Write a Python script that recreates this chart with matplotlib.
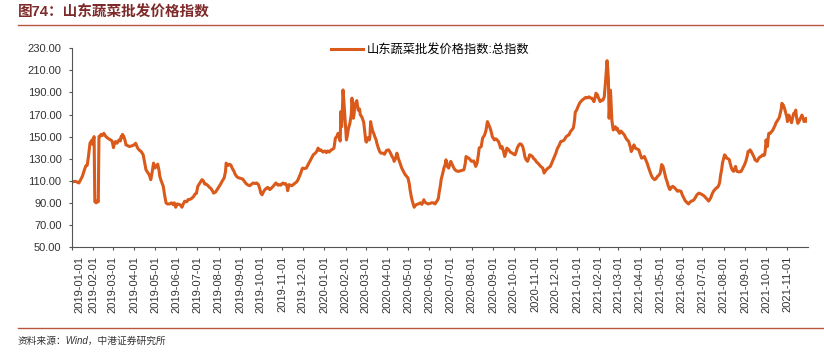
import pandas as pd
import matplotlib
matplotlib.use("Agg")
import matplotlib.pyplot as plt
import matplotlib.dates as mdates
import matplotlib.transforms as mtransforms
from matplotlib.lines import Line2D

plt.rcParams['font.family'] = ['Liberation Sans', 'Noto Sans CJK SC', 'DejaVu Sans']

# days since 2019-01-01 and index value
days = [0, 5, 10, 15, 18, 20, 22, 24, 26, 28, 29, 30, 31, 32, 33, 35, 37, 38, 39, 40,
        42, 44, 46, 47, 49, 51, 53, 56, 58, 60, 61, 63, 65, 68, 70, 71, 72, 73, 74, 75,
        77, 78, 80, 83, 86, 88, 90, 92, 95, 97, 100, 103, 105, 107, 109, 112, 114, 116, 118, 120,
        122, 124, 126, 127, 129, 132, 134, 136, 138, 141, 144, 146, 148, 150, 152, 155, 157, 159, 161, 163,
        166, 168, 170, 173, 176, 178, 180, 182, 185,
        188, 190, 192, 194, 196, 199, 201, 203, 205, 208, 210, 213, 215, 217, 220, 222, 223, 225, 226, 228,
        230, 232, 234, 236, 238, 240, 242, 245, 247, 250, 252, 255, 257, 260, 262, 265, 267, 269, 270, 272,
        273, 275, 277, 279, 281, 283, 285, 286, 288, 291, 293, 295, 298, 300, 302, 305, 307, 309, 311, 312,
        314, 316, 318, 320, 322, 325, 327, 329, 331, 333, 334, 336, 339, 341, 344, 346, 349, 352, 354, 356,
        358, 360, 363, 366,
        368, 370, 372, 375, 377, 379, 381, 383, 385, 386, 388, 389, 390, 391, 392, 393, 394, 395, 396, 397,
        398, 400, 402, 404, 405, 406, 407, 408, 409, 410, 412, 413, 414, 416, 417, 419, 420, 422, 423, 424,
        425, 426, 428, 430, 431, 432, 433, 435, 437, 438, 440, 441, 443, 445, 447, 450, 452, 455, 458, 460,
        463, 465, 466, 468, 470, 471, 472, 474, 477, 479, 482, 484, 486, 488, 489, 491, 493, 495, 497, 499,
        501, 504, 506, 508, 509, 510, 512, 515, 518, 520, 523, 525, 528, 530, 531, 533, 534, 536, 537, 538,
        540, 541, 542, 543, 545, 547,
        548, 550, 552, 554, 556, 559, 562, 564, 567, 569, 570, 572, 574, 576, 578, 581, 583, 584, 586, 588,
        589, 592, 594, 597, 599, 601, 603, 605, 607, 608, 610, 611, 613, 615, 617, 619, 620, 622, 624, 626,
        628, 629, 632, 634, 637, 639, 641, 643, 644, 646, 648, 650, 652, 654, 655, 657, 659, 661, 662, 664,
        666, 668, 670, 672, 674, 676, 678, 681, 683, 685, 687, 690, 692, 694, 696, 698, 700, 702, 705, 707,
        710, 712, 715, 717, 719, 721, 723, 725, 726, 727, 728,
        730, 733, 735, 738, 740, 743, 745, 748, 750, 752, 754, 755, 757, 758, 760, 761, 763, 764, 766, 768,
        770, 772, 774, 775, 776, 777, 778, 779, 780, 781, 782, 783, 785, 786, 788, 789, 791, 792, 794, 795,
        797, 799, 801, 803, 805, 806, 808, 809, 811, 813, 815, 817, 820, 822, 824, 826, 828, 830, 832, 834,
        836, 838, 840, 843, 845, 847, 849, 851, 852, 853, 855, 857, 859, 861, 862, 864, 865, 867, 869, 871,
        872, 874, 876, 878, 881, 883, 885, 887, 890, 892, 893, 895, 896, 898, 900, 902, 904, 907,
        910, 912, 914, 917, 919, 921, 924, 926, 928, 930, 932, 934, 936, 937, 938, 940, 941, 943, 944, 946,
        947, 949, 951, 952, 954, 955, 957, 958, 960, 961, 962, 965, 968, 970, 973, 975, 977, 978, 980, 981,
        983, 985, 987, 988, 990, 991, 993, 995, 997, 999, 1001, 1002, 1003, 1004, 1005, 1006, 1007, 1008, 1010, 1012,
        1014, 1015, 1017, 1018, 1020, 1021, 1023, 1024, 1026, 1027, 1028, 1029, 1031, 1032, 1034, 1035, 1036, 1037, 1039, 1041,
        1042, 1044, 1046, 1047, 1048, 1050, 1052, 1053, 1055, 1056, 1058, 1059, 1061, 1062, 1063]

index_vals = [109, 109.5, 108, 114, 120, 123.5, 124, 133, 144, 146, 147, 143, 148, 150, 91, 90, 92, 91, 150, 150,
              152, 151, 153, 152, 150, 149, 148, 147, 146, 140, 143, 145.5, 144, 147, 146, 150, 149, 152, 151, 150,
              146, 142.5, 142, 141, 141.5, 142, 142.5, 144, 139.6, 138, 136.5, 133.5, 127, 120, 118, 115, 111, 118, 126, 121.5,
              123, 125, 119, 114, 110, 105, 97, 90, 89, 89, 90, 88.5, 90, 86, 89, 88.5, 88, 86, 89, 91.5,
              91, 93, 93, 94, 95.8, 98, 98.6, 105, 108,
              111, 110, 107, 107, 106, 104, 103, 101, 98.8, 100, 102, 105, 107, 109.4, 112.4, 118, 126, 124, 124, 125,
              124, 121, 119, 116, 114, 113, 112.5, 112, 111.5, 109, 107.3, 106, 105.5, 107, 108, 107.5, 108, 107, 106, 102,
              99, 97.3, 100, 102, 103, 104, 103, 102, 103, 105, 106.5, 108, 106, 106.5, 106, 108, 107, 107.5, 105, 101,
              106.5, 106, 105.5, 106.5, 107.5, 109, 111, 114, 117, 121, 121.5, 121, 121.5, 124, 127.5, 130, 133.5, 135, 136.6, 139.6,
              137.5, 138, 136, 137,
              135.5, 137, 136, 138, 138.5, 139.6, 148.6, 150, 153, 150, 146, 172.7, 159, 170, 192.3, 184.8, 175, 165, 155, 147,
              150, 157.5, 162, 170, 184.8, 178, 166.6, 170, 177, 180, 182.6, 178, 174, 175, 170, 168, 166.6, 163, 157.5, 152,
              146, 145, 149, 147, 150, 163.6, 160, 155, 152, 150, 147, 144, 140, 136.5, 135, 135, 134, 137.5, 138, 136,
              132, 130, 127.6, 130, 135, 133, 130.5, 127, 121.5, 119, 115.5, 114, 112.6, 107, 102, 95, 90, 86, 88, 88.6,
              89, 90, 88.6, 91, 92.8, 91, 90, 89, 89.5, 90, 90, 89, 91.6, 94, 98.8, 106, 111, 116, 118.5, 121.5,
              125, 129, 124.7, 123, 121.5, 126.6,
              127.6, 124.7, 122, 120, 119, 118.5, 119, 119.4, 120, 126, 132, 131, 130.5, 129, 127.6, 128, 125, 123, 126, 134,
              139.6, 141, 148.6, 151.6, 156, 163.6, 160.5, 157.5, 153, 150, 148, 147, 148, 147, 145.5, 142, 139.6, 141, 137, 132,
              136, 139.6, 138, 136, 135, 134, 133.5, 137, 139.6, 142, 143.5, 143, 141, 136, 132, 129, 127.6, 131, 133.5, 133,
              132, 130, 129, 127, 126, 124.5, 123, 121.5, 117, 119, 120.6, 122, 123, 126, 129, 132, 135, 139, 142.5, 145.5,
              146, 147, 150, 151, 151.6, 154.5, 156, 157.5, 160.5, 165, 172,
              174, 178.6, 181, 183, 184, 185.5, 185, 186, 185, 184.8, 183, 181.7, 186, 189.3, 188, 186, 183, 181.7, 183, 183,
              186, 201.3, 218.8, 212, 201, 166.6, 180, 192, 178, 165, 160, 156, 158, 159, 156, 157.5, 154, 153, 155, 154.5,
              153, 151.6, 149, 147, 146, 144, 140, 136.5, 139, 142.5, 139.6, 139, 138, 134, 130.5, 131, 132, 129, 126, 122,
              118.5, 115, 112.5, 111, 112, 114, 115, 117, 121, 124.7, 123, 118, 112.5, 109, 106.5, 103, 102, 104, 105, 104,
              103.5, 102, 100.5, 101, 100.5, 97, 94.5, 92, 90, 89, 90, 91, 91.6, 92, 93, 95, 97.3, 98.8,
              98, 97.3, 96.5, 94.5, 93, 91.6, 94.5, 98, 100.5, 102, 103.5, 104, 106.5, 109, 114, 121, 126, 131, 133.5, 132,
              130.5, 130, 129, 126, 121.5, 120, 118.5, 120, 123, 120, 118.5, 118, 118.5, 121, 124.7, 128, 133, 136.5, 137, 138,
              136, 133.5, 131, 129, 128, 127.6, 130, 131.5, 132, 133.5, 133, 133.5, 138, 147, 144, 141, 148, 153, 153, 154.5,
              156, 157.5, 160, 162, 164, 165, 167, 169.5, 175, 180.2, 179, 178.6, 175, 172.7, 168, 163.6, 167, 169.5, 166, 162.6,
              166, 171, 172, 174, 168, 162, 164, 165.6, 168, 169.5, 166, 163.6, 165, 166.6, 164]

series_name = '山东蔬菜批发价格指数:总指数'
y_ticks = [50, 70, 90, 110, 130, 150, 170, 190, 210, 230]

start = pd.Timestamp('2019-01-01')
dates = start + pd.to_timedelta(days, unit='D')
month_ticks = pd.date_range('2019-01-01', '2021-11-01', freq='MS')

fig = plt.figure(figsize=(8.24, 3.54), dpi=100)
ax = fig.add_axes([72 / 824, 1 - 247 / 354, 735.5 / 824, 198.7 / 354])

ax.plot(dates, index_vals, color='#DA5A1B', lw=2.2, label=series_name)

ax.set_ylim(50, 230)
ax.set_yticks(y_ticks)
ax.set_yticklabels([f'{v:.2f}' for v in y_ticks])
ax.set_xlim(start, pd.Timestamp('2021-11-30'))
ax.set_xticks(month_ticks)
ax.xaxis.set_major_formatter(mdates.DateFormatter('%Y-%m-%d'))
for lbl in ax.get_xticklabels():
    lbl.set_rotation(90)

ax.tick_params(axis='both', direction='out', length=2.5, width=0.8,
               color='#555555', labelsize=8, labelcolor='#333333')
ax.tick_params(axis='y', pad=5)
ax.tick_params(axis='x', pad=4)
for side in ['top', 'right']:
    ax.spines[side].set_visible(False)
for side in ['left', 'bottom']:
    ax.spines[side].set_color('#555555')
    ax.spines[side].set_linewidth(0.8)

# first date label sits a bit right of its tick in the original
first = ax.get_xticklabels()[0]
first.set_transform(first.get_transform() + mtransforms.ScaledTranslation(0.07, 0, fig.dpi_scale_trans))

ax.legend(loc='center', bbox_to_anchor=(0.487, 0.988), frameon=False,
          fontsize=8.8, handlelength=2.6, handletextpad=0.3)

fig.text(18 / 824, 1 - 13 / 354, '图74：山东蔬菜批发价格指数', fontsize=10.5, weight='bold',
         color='#7F2A2A', va='center', ha='left')
fig.add_artist(Line2D([18 / 824, 1], [1 - 24.5 / 354] * 2, color='#B8553F', lw=1))
fig.add_artist(Line2D([18 / 824, 1], [1 - 328 / 354] * 2, color='#B8553F', lw=1))
fig.text(18 / 824, 1 - 341 / 354, '资料来源：Wind，中港证券研究所', fontsize=7, style='italic',
         color='#333333', va='center', ha='left')

fig.savefig('out.png', dpi=100)
